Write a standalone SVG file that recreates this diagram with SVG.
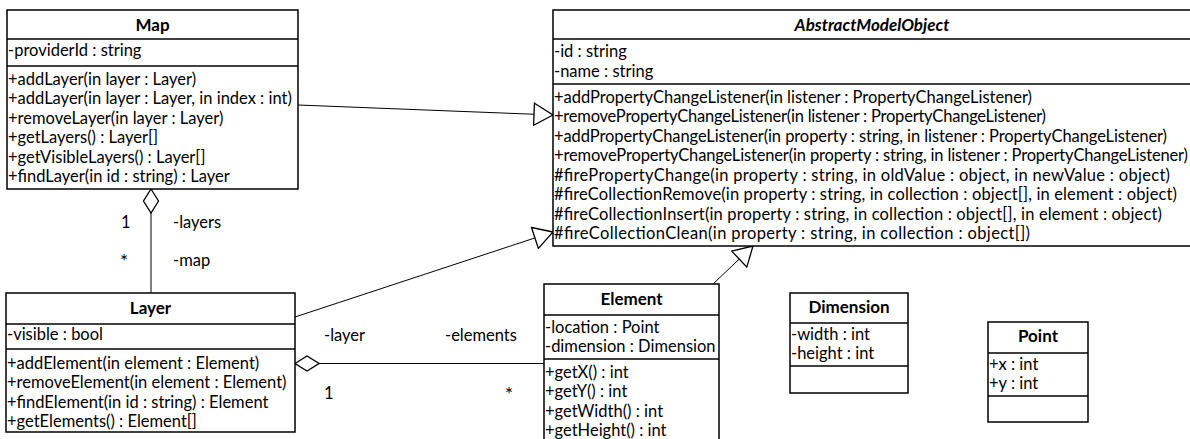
<svg xmlns="http://www.w3.org/2000/svg" width="1190" height="439" viewBox="0 0 1190 439">
<style>
.box{fill:#fff;stroke:#000;stroke-width:1.5}
.sep{stroke:#000;stroke-width:1.5}
.t{font-family:Lato,"Liberation Sans",sans-serif;font-size:16.5px;fill:#000}
.ti{font-family:Lato,"Liberation Sans",sans-serif;font-size:17px;font-weight:bold;fill:#000;text-anchor:middle}
.it{font-style:italic}
.c{stroke:#000;stroke-width:1;fill:none}
</style>
<defs>
<marker id="gen" viewBox="-1 -1 22 24" refX="19" refY="11" markerWidth="22" markerHeight="24" orient="auto" markerUnits="userSpaceOnUse">
<path d="M0,0 L19,11 L0,22 Z" fill="#fff" stroke="#000" stroke-width="1.3"/>
</marker>
<marker id="agg" viewBox="-1 -1 26 17" refX="0" refY="7.5" markerWidth="26" markerHeight="17" orient="auto" markerUnits="userSpaceOnUse">
<path d="M0,7.5 L12,0 L24,7.5 L12,15 Z" fill="#fff" stroke="#000" stroke-width="1.3"/>
</marker>
</defs>

<g id="connectors">
<line class="c" x1="298" y1="105" x2="553" y2="115" marker-end="url(#gen)"/>
<line class="c" x1="295" y1="317" x2="553" y2="232" marker-end="url(#gen)"/>
<line class="c" x1="713" y1="284" x2="753" y2="246" marker-end="url(#gen)"/>
<line class="c" x1="151" y1="189" x2="151" y2="293" marker-start="url(#agg)"/>
<line class="c" x1="295" y1="363.5" x2="544" y2="363.5" marker-start="url(#agg)"/>
<text class="t" x="121" y="228">1</text>
<text class="t" x="173" y="228">-layers</text>
<text class="t" x="120" y="268" style="font-size:19px">*</text>
<text class="t" x="173" y="266">-map</text>
<text class="t" x="324" y="341">-layer</text>
<text class="t" x="445" y="341">-elements</text>
<text class="t" x="324" y="399">1</text>
<text class="t" x="505" y="401" style="font-size:19px">*</text>
</g>

<g id="Map">
<rect class="box" x="7" y="10" width="291" height="179"/>
<line class="sep" x1="7" y1="39" x2="298" y2="39"/>
<line class="sep" x1="7" y1="66" x2="298" y2="66"/>
<text class="ti" x="152.5" y="31">Map</text>
<text class="t" x="8" y="56">-providerId : string</text>
<text class="t" x="8" y="84.5">+addLayer(in layer : Layer)</text>
<text class="t" x="8" y="104">+addLayer(in layer : Layer, in index : int)</text>
<text class="t" x="8" y="123.5">+removeLayer(in layer : Layer)</text>
<text class="t" x="8" y="143">+getLayers() : Layer[]</text>
<text class="t" x="8" y="162.5">+getVisibleLayers() : Layer[]</text>
<text class="t" x="8" y="182">+findLayer(in id : string) : Layer</text>
</g>

<g id="AbstractModelObject">
<rect class="box" x="553" y="10" width="660" height="236"/>
<line class="sep" x1="553" y1="39" x2="1213" y2="39"/>
<line class="sep" x1="553" y1="84" x2="1213" y2="84"/>
<text class="ti it" x="872" y="31">AbstractModelObject</text>
<text class="t" x="554" y="57">-id : string</text>
<text class="t" x="554" y="77">-name : string</text>
<text class="t" x="554" y="102.5" textLength="478" lengthAdjust="spacing">+addPropertyChangeListener(in listener : PropertyChangeListener)</text>
<text class="t" x="554" y="122" textLength="492" lengthAdjust="spacing">+removePropertyChangeListener(in listener : PropertyChangeListener)</text>
<text class="t" x="554" y="141.5" textLength="613" lengthAdjust="spacing">+addPropertyChangeListener(in property : string, in listener : PropertyChangeListener)</text>
<text class="t" x="554" y="161" textLength="634" lengthAdjust="spacing">+removePropertyChangeListener(in property : string, in listener : PropertyChangeListener)</text>
<text class="t" x="554" y="180.5" textLength="616" lengthAdjust="spacing">#firePropertyChange(in property : string, in oldValue : object, in newValue : object)</text>
<text class="t" x="554" y="200" textLength="623" lengthAdjust="spacing">#fireCollectionRemove(in property : string, in collection : object[], in element : object)</text>
<text class="t" x="554" y="219.5" textLength="608" lengthAdjust="spacing">#fireCollectionInsert(in property : string, in collection : object[], in element : object)</text>
<text class="t" x="554" y="239" textLength="476" lengthAdjust="spacing">#fireCollectionClean(in property : string, in collection : object[])</text>
</g>

<g id="Layer">
<rect class="box" x="6" y="293" width="289" height="139"/>
<line class="sep" x1="6" y1="324" x2="295" y2="324"/>
<line class="sep" x1="6" y1="349" x2="295" y2="349"/>
<text class="ti" x="150.5" y="314">Layer</text>
<text class="t" x="7" y="340">-visible : bool</text>
<text class="t" x="7" y="368.5">+addElement(in element : Element)</text>
<text class="t" x="7" y="388">+removeElement(in element : Element)</text>
<text class="t" x="7" y="407.5">+findElement(in id : string) : Element</text>
<text class="t" x="7" y="427">+getElements() : Element[]</text>
</g>

<g id="Element">
<rect class="box" x="544" y="284" width="175" height="165"/>
<line class="sep" x1="544" y1="315" x2="719" y2="315"/>
<line class="sep" x1="544" y1="359" x2="719" y2="359"/>
<text class="ti" x="631.5" y="305">Element</text>
<text class="t" x="545" y="332.5">-location : Point</text>
<text class="t" x="545" y="352">-dimension : Dimension</text>
<text class="t" x="545" y="377.5">+getX() : int</text>
<text class="t" x="545" y="397">+getY() : int</text>
<text class="t" x="545" y="416.5">+getWidth() : int</text>
<text class="t" x="545" y="436">+getHeight() : int</text>
</g>

<g id="Dimension">
<rect class="box" x="790" y="293" width="118" height="100"/>
<line class="sep" x1="790" y1="323" x2="908" y2="323"/>
<line class="sep" x1="790" y1="366" x2="908" y2="366"/>
<text class="ti" x="849" y="313">Dimension</text>
<text class="t" x="791" y="339.5">-width : int</text>
<text class="t" x="791" y="359">-height : int</text>
</g>

<g id="Point">
<rect class="box" x="988" y="322" width="100" height="100"/>
<line class="sep" x1="988" y1="353" x2="1088" y2="353"/>
<line class="sep" x1="988" y1="396" x2="1088" y2="396"/>
<text class="ti" x="1038" y="342">Point</text>
<text class="t" x="989" y="369.5">+x : int</text>
<text class="t" x="989" y="389">+y : int</text>
</g>
</svg>
